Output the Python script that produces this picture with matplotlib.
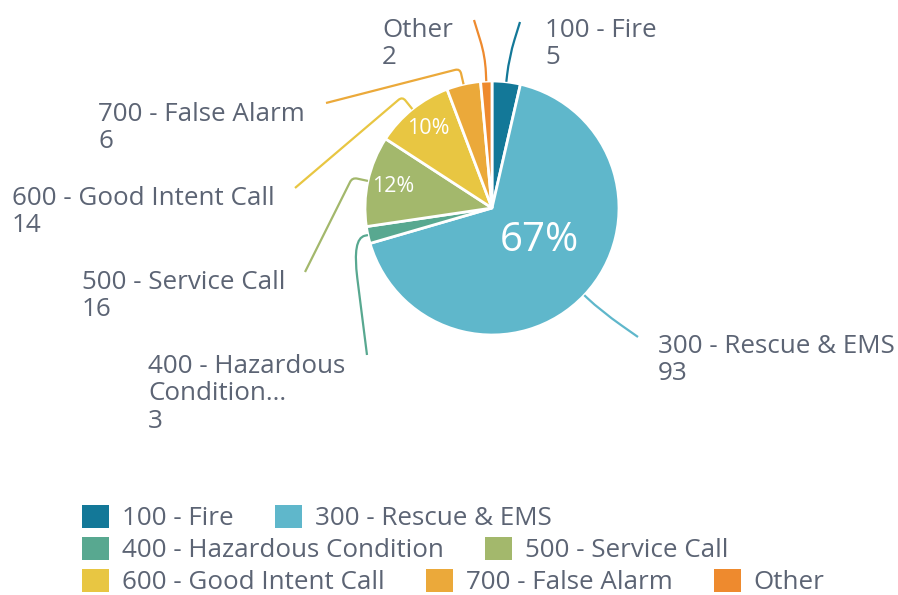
import matplotlib.pyplot as plt
import numpy as np
from matplotlib.path import Path
from matplotlib.patches import PathPatch, Patch
from matplotlib.legend import Legend

# incident types and counts
categories = ["100 - Fire", "300 - Rescue & EMS", "400 - Hazardous Condition",
              "500 - Service Call", "600 - Good Intent Call", "700 - False Alarm", "Other"]
slice_labels = ["100 - Fire", "300 - Rescue & EMS", "400 - Hazardous\nCondition...",
                "500 - Service Call", "600 - Good Intent Call", "700 - False Alarm", "Other"]
counts = [5, 93, 3, 16, 14, 6, 2]
colors = ["#137898", "#5fb7cb", "#58a890", "#a3b86c", "#e8c642", "#eba93a", "#ee8a2e"]

TXT = "#5c6474"
FS = 18.7
plt.rcParams['font.family'] = ['Open Sans', 'DejaVu Sans']

W, H = 898, 595
fig = plt.figure(figsize=(W / 100, H / 100), dpi=100)
ax = fig.add_axes([0, 0, 1, 1])


def Y(y):
    return H - y


cx, cy, R = 492, 208, 127

def pct(p):
    return "%d%%" % round(p) if p >= 9.5 else ""

wedges, _, autotexts = ax.pie(counts, colors=colors, startangle=90, counterclock=False,
                              center=(cx, Y(cy)), radius=R, autopct=pct, pctdistance=0.8,
                              wedgeprops=dict(edgecolor="white", linewidth=2),
                              textprops=dict(color="white", fontsize=15.5))
ax.set_xlim(0, W)
ax.set_ylim(0, H)
ax.axis("off")

# big label for the dominant slice
autotexts[1].set_fontsize(29)
th = np.deg2rad((wedges[1].theta1 + wedges[1].theta2) / 2 + 9)
autotexts[1].set_position((cx + 0.45 * R * np.cos(th), Y(cy) + 0.45 * R * np.sin(th)))

# outside labels: (text left x, cap top y), leader end point, elbow radius, corner rounding
label_pos = [(545, 18), (658, 334), (148, 354), (82, 270), (12, 186), (98, 102), (382, 18)]
line_end = [(520, 22), (638, 337), (367, 355), (305, 272), (295, 188), (326, 103), (474, 20)]
elbow_r = [152, 150, 143, 143, 143, 143, 152]
round_d = [18, 25, 40, 5, 5, 5, 16]

for i, w in enumerate(wedges):
    a = np.deg2rad((w.theta1 + w.theta2) / 2)
    d = np.array([np.cos(a), np.sin(a)])
    c = np.array([cx, Y(cy)])
    p0 = c + R * d
    p1 = c + elbow_r[i] * d
    p2 = np.array([line_end[i][0], Y(line_end[i][1])])
    rd = round_d[i]
    v1 = (p0 - p1) / np.linalg.norm(p0 - p1)
    v2 = (p2 - p1) / np.linalg.norm(p2 - p1)
    rd1 = min(rd, np.linalg.norm(p0 - p1) * 0.8)
    pa = p1 + v1 * rd1
    pb = p1 + v2 * rd
    path = Path([p0, pa, p1, pb, p2],
                [Path.MOVETO, Path.LINETO, Path.CURVE3, Path.CURVE3, Path.LINETO])
    ax.add_patch(PathPatch(path, facecolor="none", edgecolor=colors[i], lw=1.6))
    lx, ly = label_pos[i]
    ax.text(lx, Y(ly), "%s\n%d" % (slice_labels[i], counts[i]), color=TXT,
            fontsize=FS, ha="left", va="top", linespacing=1.12)

# legend, laid out in three flowing rows
rows = [[0, 1], [2, 3], [4, 5, 6]]
for r, idx in enumerate(rows):
    handles = [Patch(facecolor=colors[k], edgecolor="none") for k in idx]
    leg = Legend(ax, handles, [categories[k] for k in idx], ncol=len(idx), frameon=False,
                 loc="center left", bbox_to_anchor=(82, Y(518 + 32 * r)),
                 bbox_transform=ax.transData, borderpad=0, borderaxespad=0,
                 handlelength=1.03, handleheight=1.03, handletextpad=0.5,
                 columnspacing=1.6, fontsize=FS, labelcolor=TXT)
    ax.add_artist(leg)

fig.savefig("out.png", dpi=100)
